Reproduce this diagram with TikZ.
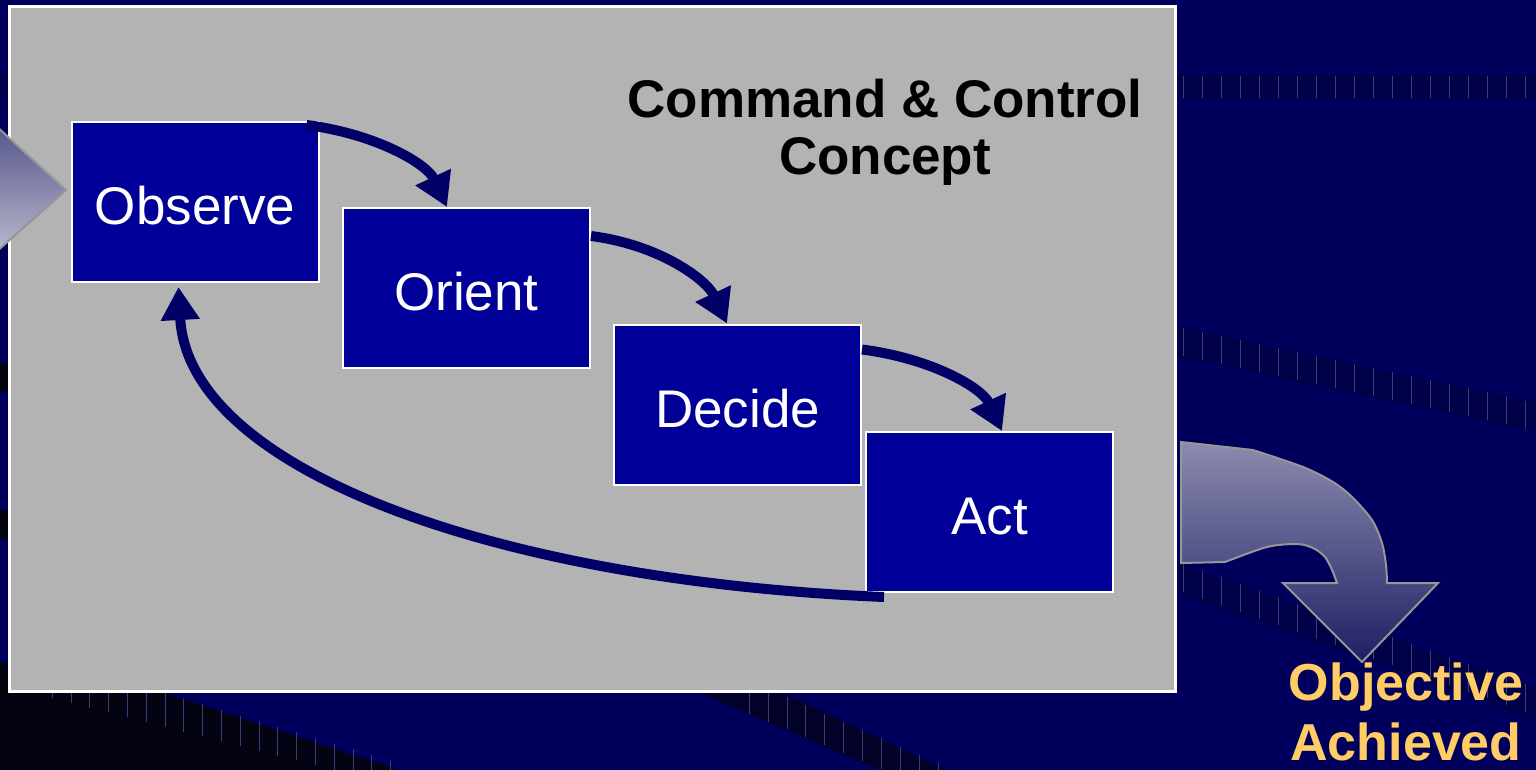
\documentclass[tikz,border=0pt]{standalone}
\usepackage{fontspec}
\setmainfont{Liberation Sans}
\usetikzlibrary{arrows.meta,calc}
\definecolor{bgnavy}{RGB}{0,0,92}
\definecolor{bandc}{RGB}{0,0,72}
\definecolor{darkband}{RGB}{2,2,40}
\definecolor{darkc}{RGB}{3,3,18}
\definecolor{tickc}{RGB}{60,60,125}
\definecolor{panelc}{RGB}{179,179,179}
\definecolor{boxc}{RGB}{0,0,153}
\definecolor{arrc}{RGB}{0,0,102}
\definecolor{goldc}{RGB}{255,204,102}
\definecolor{shapeborder}{RGB}{150,150,150}
\definecolor{tritop}{RGB}{85,85,140}
\definecolor{tribot}{RGB}{185,185,205}
\definecolor{bigtop}{RGB}{140,140,175}
\definecolor{bigbot}{RGB}{30,30,100}
\begin{document}
\begin{tikzpicture}[x=1pt,y=-1pt,
  stepbox/.style={draw=white, line width=2pt, fill=boxc, text=white,
    minimum width=247pt, minimum height=160pt, inner sep=0pt,
    text height=45pt, text depth=0pt,
    font=\fontsize{53}{60}\selectfont},
  flow/.style={draw=arrc, line width=10pt, -{Triangle[width=37pt,length=33pt]}},
  tickline/.style={draw=tickc, line width=0.6pt}
]
\useasboundingbox (0,0) rectangle (1536,770);
\clip (0,0) rectangle (1536,770);
% background
\fill[bgnavy] (0,0) rectangle (1536,770);
% decorative bands
\fill[bandc] (0,75) rectangle (1536,99);
\foreach \x in {1183,1202,...,1536} \draw[tickline] (\x,76) -- (\x,98);
\fill[darkc] (0,363) rectangle (10,392);
\fill[darkc] (0,510) rectangle (10,539);
\fill[bandc] (1177,327) -- (1536,403) -- (1536,432) -- (1177,356) -- cycle;
\foreach \x in {1183,1202,...,1536} \draw[tickline] (\x,{328+0.212*(\x-1183)}) -- (\x,{356+0.212*(\x-1183)});
\fill[bandc] (1177,563) -- (1536,688) -- (1536,720) -- (1177,593) -- cycle;
\foreach \x in {1183,1202,...,1536} \draw[tickline] (\x,{564+0.35*(\x-1183)}) -- (\x,{592+0.35*(\x-1183)});
\fill[darkc] (0,662) -- (165,693) -- (460,790) -- (0,790) -- cycle;
\foreach \x in {52,70.8,...,400} \draw[tickline] (\x,{max(693,693+0.3*(\x-165))}) -- (\x,{698+0.255*(\x-52)});
\fill[darkband] (700,693) -- (783,693) -- (950,772) -- (885,772) -- cycle;
\foreach \x in {749,767.9,...,940} \draw[tickline] (\x,{max(693,697+0.44*(\x-787))}) -- (\x,{min(772,695+0.415*(\x-704))});
% outgoing curved arrow
\draw[top color=bigtop, bottom color=bigbot, draw=shapeborder, line width=2pt]
  (1181,442) -- plot[smooth] coordinates {(1253,450) (1303,467) (1333,482) (1352,497) (1372,520) (1382,543) (1386,565) (1387,583)}
  -- (1438,583) -- (1362,662) -- (1283,583) -- (1337,583)
  -- plot[smooth] coordinates {(1333,572) (1325,557) (1313,548) (1297,544) (1267,547) (1225,562)}
  -- (1181,563) -- cycle;
% panel
\draw[fill=panelc, draw=white, line width=3pt] (9.5,6.5) rectangle (1175.5,691.5);
% incoming triangle
\draw[top color=tritop, bottom color=tribot, draw=shapeborder, line width=2pt]
  (-5,125) -- (66,190) -- (-5,253) -- cycle;
% boxes
\node[stepbox] (obs) at (195,202) {Observe};
\node[stepbox] (ori) at (466.5,288) {Orient};
\node[stepbox] (dec) at (737.5,404.5) {Decide};
\node[stepbox] (act) at (989.5,512) {Act};
% connectors
\draw[flow] ([xshift=-13pt,yshift=-4pt]obs.north east) .. controls +(70,9) and +(-20,-43) .. ([xshift=105pt]ori.north west);
\draw[flow] ([yshift=-29pt]ori.north east) .. controls +(70,9) and +(-20,-43) .. ([xshift=114pt]dec.north west);
\draw[flow] ([yshift=-26pt]dec.north east) .. controls +(70,9) and +(-20,-43) .. ([xshift=137pt]act.north west);
\draw[flow] ([xshift=19pt,yshift=-4pt]act.south west) .. controls +(-385,-16) and +(10,184) .. ([xshift=108pt,yshift=-4pt]obs.south west);
% texts
\node[font=\bfseries\fontsize{53}{57}\selectfont, align=center, inner sep=0pt] (title) at (885,132) {Command \& Control\\Concept};
\node[font=\bfseries\fontsize{52}{60}\selectfont, text=goldc, align=center, inner sep=0pt] (goal) at (1406,712) {Objective\\Achieved};
\end{tikzpicture}
\end{document}
